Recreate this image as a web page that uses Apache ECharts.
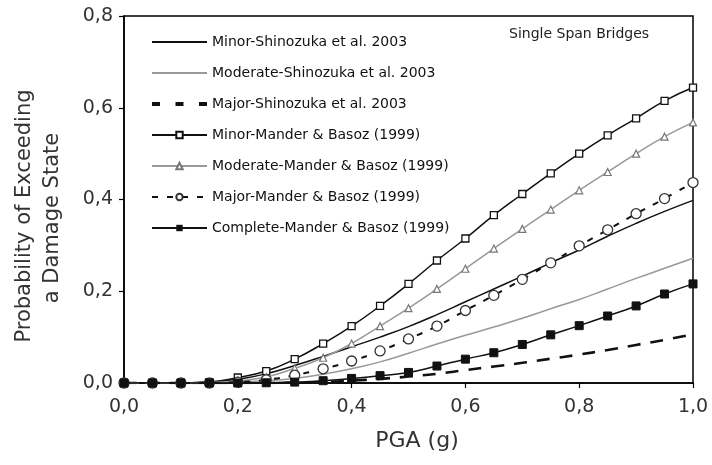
<!DOCTYPE html>
<html><head><meta charset="utf-8">
<script src="https://cdn.jsdelivr.net/npm/echarts@6/dist/echarts.min.js"></script>
<style>html,body{margin:0;padding:0;background:#fff}#c{width:712px;height:465px}</style>
</head><body><div id="c"></div>
<script>
const pga = [0,0.05,0.1,0.15,0.2,0.25,0.3,0.35,0.4,0.45,0.5,0.55,0.6,0.65,0.7,0.75,0.8,0.85,0.9,0.95,1.0];
const minorShinozuka    = [0,0,0,0.002,0.008,0.02,0.038,0.058,0.079,0.1,0.123,0.149,0.177,0.205,0.233,0.262,0.29,0.32,0.348,0.374,0.398];
const moderateShinozuka = [0,0,0,0,0.002,0.005,0.01,0.019,0.031,0.046,0.065,0.085,0.104,0.122,0.141,0.162,0.182,0.205,0.228,0.25,0.272];
const majorShinozuka    = [0,0,0,0,0,0,0.001,0.002,0.005,0.009,0.014,0.02,0.028,0.036,0.044,0.053,0.062,0.072,0.083,0.094,0.106];
const minorMander       = [0,0,0,0.002,0.012,0.026,0.052,0.086,0.124,0.168,0.216,0.267,0.315,0.366,0.412,0.457,0.5,0.54,0.577,0.615,0.644];
const moderateMander    = [0,0,0,0.001,0.005,0.013,0.032,0.055,0.086,0.124,0.163,0.205,0.249,0.293,0.336,0.378,0.42,0.46,0.5,0.537,0.568];
const majorMander       = [0,0,0,0,0.002,0.007,0.017,0.031,0.048,0.07,0.096,0.124,0.158,0.191,0.226,0.262,0.299,0.334,0.369,0.402,0.437];
const completeMander    = [0,0,0,0,0,0.0005,0.002,0.005,0.01,0.016,0.023,0.037,0.052,0.066,0.084,0.105,0.125,0.146,0.168,0.194,0.216];
const names = ['Minor-Shinozuka et al. 2003','Moderate-Shinozuka et al. 2003','Major-Shinozuka et al. 2003',
  'Minor-Mander & Basoz (1999)','Moderate-Mander & Basoz (1999)','Major-Mander & Basoz (1999)','Complete-Mander & Basoz (1999)'];
const chartTitle = 'Single Span Bridges';
const xTitle = 'PGA (g)';
const yTitleLines = ['Probability of Exceeding','a Damage State'];

const pts = arr => arr.map((v,i)=>[pga[i],v]);
const fmt = v => v.toFixed(1).replace('.',',');
const font = 'DejaVu Sans, sans-serif';

const legendData = names.map((n,i)=> {
  if (i===2) return {name:n,itemStyle:{opacity:0},lineStyle:{type:[8,15.5],width:4}};
  if (i<3) return {name:n,itemStyle:{opacity:0}};
  return {name:n};
});

const chart = echarts.init(document.getElementById('c'), null, {renderer:'canvas'});
chart.setOption({
  animation:false,
  backgroundColor:'#fff',
  grid:{left:124,right:19,top:16,bottom:82,show:true,borderColor:'#000',borderWidth:1.5},
  title:{text:chartTitle,left:509,top:27,padding:0,textStyle:{fontSize:14,fontWeight:'normal',color:'#222',fontFamily:font}},
  legend:{
    orient:'vertical',left:150,top:35,padding:0,itemWidth:55,itemHeight:8,itemGap:17,
    textStyle:{fontSize:14,lineHeight:14,color:'#111',fontFamily:font},
    data:legendData
  },
  graphic:[
    {type:'text',silent:true,x:25,y:216,rotation:Math.PI/2,
      style:{text:yTitleLines[0],fill:'#333',font:'21px DejaVu Sans',textAlign:'center',textVerticalAlign:'middle'}},
    {type:'text',silent:true,x:53,y:218,rotation:Math.PI/2,
      style:{text:yTitleLines[1],fill:'#333',font:'21px DejaVu Sans',textAlign:'center',textVerticalAlign:'middle'}},
    {type:'text',silent:true,x:417,y:441,
      style:{text:xTitle,fill:'#333',font:'22px DejaVu Sans',textAlign:'center',textVerticalAlign:'middle'}}
  ],
  xAxis:{type:'value',min:0,max:1,interval:0.2,
    axisLine:{lineStyle:{color:'#000',width:1.5}},
    axisTick:{show:true,length:5,lineStyle:{color:'#000',width:1.2}},
    axisLabel:{formatter:fmt,fontSize:19,color:'#333',fontFamily:font,margin:15},
    splitLine:{show:false}},
  yAxis:{type:'value',min:0,max:0.8,interval:0.2,
    axisLine:{show:true,lineStyle:{color:'#000',width:1.5}},
    axisTick:{show:true,length:5,lineStyle:{color:'#000',width:1.2}},
    axisLabel:{formatter:fmt,fontSize:19,color:'#333',fontFamily:font,margin:11},
    splitLine:{show:false}},
  series:[
    {name:names[0],type:'line',smooth:true,showSymbol:false,symbol:'none',data:pts(minorShinozuka),
      lineStyle:{color:'#111',width:1.5},itemStyle:{color:'#111'},z:3},
    {name:names[1],type:'line',smooth:true,showSymbol:false,symbol:'none',data:pts(moderateShinozuka),
      lineStyle:{color:'#999',width:1.5},itemStyle:{color:'#999'},z:3},
    {name:names[2],type:'line',smooth:true,showSymbol:false,symbol:'none',data:pts(majorShinozuka),
      lineStyle:{color:'#111',width:2.6,type:[13,10]},itemStyle:{color:'#111'},z:3},
    {name:names[3],type:'line',smooth:true,symbol:'rect',symbolSize:7,data:pts(minorMander),
      lineStyle:{color:'#111',width:1.5},itemStyle:{color:'#fff',borderColor:'#111',borderWidth:1.3},z:4},
    {name:names[4],type:'line',smooth:true,symbol:'triangle',symbolSize:7,data:pts(moderateMander),
      lineStyle:{color:'#999',width:1.5},itemStyle:{color:'#fff',borderColor:'#777',borderWidth:1.2},z:4},
    {name:names[5],type:'line',smooth:true,symbol:'circle',symbolSize:10,data:pts(majorMander),
      lineStyle:{color:'#111',width:2,type:[6,9]},itemStyle:{color:'#fff',borderColor:'#333',borderWidth:1.3},z:4},
    {name:names[6],type:'line',smooth:true,symbol:'rect',symbolSize:8,data:pts(completeMander),
      lineStyle:{color:'#111',width:1.5},itemStyle:{color:'#111',borderColor:'#111'},z:5}
  ]
});
</script></body></html>
